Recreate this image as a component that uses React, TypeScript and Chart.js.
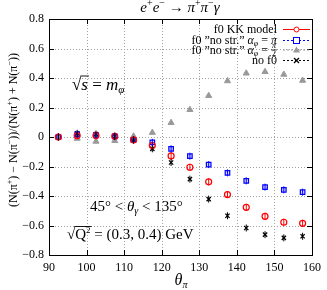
import React, { useEffect, useRef } from "react";
import { Chart, registerables } from "chart.js";
Chart.register(...registerables);

const theta = [92.5, 97.5, 102.5, 107.5, 112.5, 117.5, 122.5, 127.5, 132.5, 137.5, 142.5, 147.5, 152.5, 157.5];
const kkModel = [0, 0.01, 0.01, 0.005, -0.02, -0.058, -0.128, -0.205, -0.304, -0.39, -0.477, -0.538, -0.578, -0.585];
const noStrPi = [0, 0.018, 0.013, 0.005, -0.02, -0.036, -0.08, -0.13, -0.187, -0.243, -0.297, -0.34, -0.358, -0.374];
const noStrHalfPi = [0, -0.01, -0.03, -0.025, 0.005, 0.03, 0.097, 0.185, 0.28, 0.38, 0.432, 0.442, 0.424, 0.383];
const noF0 = [0, 0.025, 0.02, 0.005, -0.02, -0.08, -0.173, -0.286, -0.421, -0.534, -0.617, -0.662, -0.684, -0.673];

const xTicks = [90, 100, 110, 120, 130, 140, 150, 160];
const yTicks = [-0.8, -0.6, -0.4, -0.2, 0, 0.2, 0.4, 0.6, 0.8];

const SERIF = '"Liberation Serif", "DejaVu Serif", serif';

type Seg = { t?: string; it?: boolean; size?: number; dy?: number; over?: number; frac?: [string, string] };

function fontOf(s: Seg, base: number) {
  return `${s.it ? "italic " : ""}${s.size ?? base}px ${SERIF}`;
}
function segWidth(ctx: CanvasRenderingContext2D, s: Seg, base: number) {
  if (s.frac) {
    ctx.font = `${Math.round(base * 0.7)}px ${SERIF}`;
    return Math.max(ctx.measureText(s.frac[0]).width, ctx.measureText(s.frac[1]).width) + 2;
  }
  ctx.font = fontOf(s, base);
  return ctx.measureText(s.t || "").width;
}
function drawRich(ctx: CanvasRenderingContext2D, segs: Seg[], x: number, y: number, base: number, align: "left" | "right" | "center", color = "#000") {
  const widths = segs.map((s) => segWidth(ctx, s, base));
  const total = widths.reduce((a, b) => a + b, 0);
  let cx = align === "left" ? x : align === "right" ? x - total : x - total / 2;
  ctx.save();
  ctx.fillStyle = color;
  ctx.strokeStyle = color;
  ctx.textBaseline = "alphabetic";
  ctx.textAlign = "left";
  segs.forEach((s, i) => {
    const w = widths[i];
    if (s.frac) {
      const fs = Math.round(base * 0.7);
      ctx.font = `${fs}px ${SERIF}`;
      const mid = y - base * 0.3;
      const w0 = ctx.measureText(s.frac[0]).width;
      const w1 = ctx.measureText(s.frac[1]).width;
      ctx.font = `italic ${fs}px ${SERIF}`;
      ctx.fillText(s.frac[0], cx + (w - w0) / 2, mid - 1.5);
      ctx.font = `${fs}px ${SERIF}`;
      ctx.fillText(s.frac[1], cx + (w - w1) / 2, mid + fs * 0.75);
      ctx.lineWidth = 0.7;
      ctx.beginPath();
      ctx.moveTo(cx, mid);
      ctx.lineTo(cx + w, mid);
      ctx.stroke();
    } else {
      ctx.font = fontOf(s, base);
      ctx.fillText(s.t || "", cx, y + (s.dy || 0));
      if (s.over) {
        ctx.lineWidth = 0.9;
        ctx.beginPath();
        ctx.moveTo(cx - 1, y - s.over);
        ctx.lineTo(cx + w + 1, y - s.over);
        ctx.stroke();
      }
    }
    cx += w;
  });
  ctx.restore();
}

const decorPlugin = {
  id: "decor",
  beforeDatasetsDraw(chart: any) {
    const ctx = chart.ctx as CanvasRenderingContext2D;
    const { left, right, top, bottom } = chart.chartArea;
    const xs = chart.scales.x;
    const ys = chart.scales.y;
    ctx.save();
    ctx.strokeStyle = "#a0a0a0";
    ctx.lineWidth = 1;
    ctx.setLineDash([1, 2]);
    xTicks.forEach((v) => {
      const px = Math.round(xs.getPixelForValue(v)) + 0.5;
      ctx.beginPath();
      ctx.moveTo(px, top);
      ctx.lineTo(px, bottom);
      ctx.stroke();
    });
    yTicks.forEach((v) => {
      const py = Math.round(ys.getPixelForValue(v)) + 0.5;
      ctx.beginPath();
      ctx.moveTo(left, py);
      ctx.lineTo(right, py);
      ctx.stroke();
    });
    ctx.setLineDash([]);
    ctx.strokeStyle = "#000";
    ctx.lineWidth = 1;
    const L = 5;
    xTicks.forEach((v) => {
      const px = Math.round(xs.getPixelForValue(v)) + 0.5;
      ctx.beginPath();
      ctx.moveTo(px, bottom);
      ctx.lineTo(px, bottom - L);
      ctx.moveTo(px, top);
      ctx.lineTo(px, top + L);
      ctx.stroke();
    });
    yTicks.forEach((v) => {
      const py = Math.round(ys.getPixelForValue(v)) + 0.5;
      ctx.beginPath();
      ctx.moveTo(left, py);
      ctx.lineTo(left + L, py);
      ctx.moveTo(right, py);
      ctx.lineTo(right - L, py);
      ctx.stroke();
    });
    ctx.strokeRect(Math.round(left) + 0.5, Math.round(top) + 0.5, Math.round(right - left), Math.round(bottom - top));
    ctx.restore();
  },
  afterDatasetsDraw(chart: any) {
    const ctx = chart.ctx as CanvasRenderingContext2D;
    // vertical error-bar strokes through markers
    ctx.save();
    [0, 1, 3].forEach((di) => {
      const meta = chart.getDatasetMeta(di);
      const col = chart.data.datasets[di].borderColor;
      ctx.strokeStyle = col;
      ctx.lineWidth = 1;
      meta.data.forEach((el: any) => {
        ctx.beginPath();
        ctx.moveTo(el.x, el.y - 3.5);
        ctx.lineTo(el.x, el.y + 3.5);
        ctx.stroke();
      });
    });
    ctx.restore();

    // title
    drawRich(ctx, [
      { t: "e", it: true }, { t: "+", size: 10, dy: -6 }, { t: "e", it: true }, { t: "−", size: 10, dy: -6 },
      { t: " → " }, { t: "π", it: true }, { t: "+", size: 10, dy: -6 }, { t: "π", it: true }, { t: "−", size: 10, dy: -6 }, { t: "γ", it: true },
    ], 180, 12, 15, "center");

    // y-axis title
    ctx.save();
    ctx.translate(13, 130);
    ctx.rotate(-Math.PI / 2);
    drawRich(ctx, [
      { t: "(N(π" }, { t: "+", size: 8, dy: -5 }, { t: ") − N(π" }, { t: "−", size: 8, dy: -5 },
      { t: "))/(N(π" }, { t: "+", size: 8, dy: -5 }, { t: ") + N(π" }, { t: "−", size: 8, dy: -5 }, { t: "))" },
    ], 0, 4, 12, "center");
    ctx.restore();

    // x-axis title
    drawRich(ctx, [{ t: "θ", it: true }, { t: "π", it: true, size: 10, dy: 3 }], 181, 285, 16, "center");

    // legend
    const tx = 277;
    const rows: { segs: Seg[]; y: number; color: string; dash: number[]; style: string }[] = [
      { segs: [{ t: "f0 KK model" }], y: 33, color: "#ff0000", dash: [], style: "circle" },
      { segs: [{ t: "f0 \u201Dno str.\u201D " }, { t: "α", it: true }, { t: "φ", it: true, size: 8, dy: 2 }, { t: " = " }, { t: "π", it: true }], y: 44, color: "#0000ff", dash: [2, 2], style: "rect" },
      { segs: [{ t: "f0 \u201Dno str.\u201D " }, { t: "α", it: true }, { t: "φ", it: true, size: 8, dy: 2 }, { t: " = " }, { frac: ["π", "2"] }], y: 53.5, color: "#999999", dash: [2, 2], style: "triangle" },
      { segs: [{ t: "no f0" }], y: 64, color: "#000000", dash: [2, 2], style: "cross" },
    ];
    rows.forEach((r) => {
      drawRich(ctx, r.segs, tx, r.y, 12, "right");
      const ly = r.y - 3.5;
      ctx.save();
      ctx.strokeStyle = r.color;
      ctx.fillStyle = r.color;
      ctx.lineWidth = 1;
      ctx.setLineDash(r.dash);
      ctx.beginPath();
      ctx.moveTo(283, ly);
      ctx.lineTo(310, ly);
      ctx.stroke();
      ctx.setLineDash([]);
      const mx = 296.5;
      if (r.style === "circle") {
        ctx.fillStyle = "#fff";
        ctx.beginPath();
        ctx.arc(mx, ly, 2.5, 0, Math.PI * 2);
        ctx.fill();
        ctx.stroke();
      } else if (r.style === "rect") {
        ctx.fillStyle = "#fff";
        ctx.fillRect(mx - 3, ly - 3, 6, 6);
        ctx.strokeRect(mx - 3, ly - 3, 6, 6);
      } else if (r.style === "triangle") {
        ctx.beginPath();
        ctx.moveTo(mx, ly - 3.5);
        ctx.lineTo(mx + 3.5, ly + 2.5);
        ctx.lineTo(mx - 3.5, ly + 2.5);
        ctx.closePath();
        ctx.fill();
      } else {
        ctx.lineWidth = 1.3;
        ctx.beginPath();
        ctx.moveTo(mx - 2.5, ly - 2.5);
        ctx.lineTo(mx + 2.5, ly + 2.5);
        ctx.moveTo(mx + 2.5, ly - 2.5);
        ctx.lineTo(mx - 2.5, ly + 2.5);
        ctx.stroke();
      }
      ctx.restore();
    });

    // annotations
    drawRich(ctx, [{ t: "√", size: 17 }, { t: "s", it: true, over: 14, size: 17 }, { t: " = " , size: 17}, { t: "m", it: true, size: 17 }, { t: "φ", it: true, size: 11, dy: 3 }], 72, 90, 17, "left");
    drawRich(ctx, [{ t: "45° < " }, { t: "θ", it: true }, { t: "γ", it: true, size: 10, dy: 3 }, { t: " < 135°" }], 90, 211, 15, "left");
    drawRich(ctx, [{ t: "√", size: 15 }, { t: "Q", over: 12.5 }, { t: "2", size: 9, dy: -6, over: 12.5 }, { t: " = (0.3, 0.4) GeV" }], 67, 239, 15, "left");
  },
};

function fmtY(v: number) {
  const r = Math.round(v * 10) / 10;
  if (r === 0) return "0";
  const s = Math.abs(r).toFixed(1);
  return r < 0 ? "−" + s : s;
}

export default function App() {
  const ref = useRef<HTMLCanvasElement | null>(null);
  useEffect(() => {
    document.body.style.margin = "0";
    const canvas = ref.current!;
    const mk = (a: number[]) => theta.map((x, i) => ({ x, y: a[i] }));
    const chart = new Chart(canvas, {
      type: "scatter",
      data: {
        datasets: [
          { label: "f0 KK model", data: mk(kkModel), borderColor: "#ff0000", backgroundColor: "rgba(255,255,255,0)", pointStyle: "circle", pointRadius: 3, borderWidth: 1.2 },
          { label: "no str. pi", data: mk(noStrPi), borderColor: "#0000ff", backgroundColor: "rgba(0,0,255,0.15)", pointStyle: "rect", pointRadius: 3.2, borderWidth: 1.2 },
          { label: "no str. pi/2", data: mk(noStrHalfPi), borderColor: "#999999", backgroundColor: "#999999", pointStyle: "triangle", pointRadius: 3.5, borderWidth: 1 },
          { label: "no f0", data: mk(noF0), borderColor: "#000000", backgroundColor: "#000000", pointStyle: "crossRot", pointRadius: 3, borderWidth: 1.3 },
        ],
      } as any,
      options: {
        animation: false,
        responsive: false,
        devicePixelRatio: 1,
        layout: { padding: { left: 0, right: 10, top: 19, bottom: 0 } },
        plugins: { legend: { display: false }, tooltip: { enabled: false }, title: { display: false } },
        scales: {
          x: {
            type: "linear",
            min: 90,
            max: 160,
            afterBuildTicks: (s: any) => { s.ticks = xTicks.map((v) => ({ value: v })); },
            afterFit: (s: any) => { s.height = 35; },
            grid: { display: false, drawTicks: false },
            border: { display: false },
            ticks: { color: "#000", font: { family: SERIF, size: 12 }, padding: 6, maxRotation: 0 },
          },
          y: {
            type: "linear",
            min: -0.8,
            max: 0.8,
            afterBuildTicks: (s: any) => { s.ticks = yTicks.map((v) => ({ value: v })); },
            afterFit: (s: any) => { s.width = 49; },
            grid: { display: false, drawTicks: false },
            border: { display: false },
            ticks: { color: "#000", font: { family: SERIF, size: 12 }, padding: 5, callback: (v: any) => fmtY(Number(v)) },
          },
        },
      } as any,
      plugins: [decorPlugin],
    });
    return () => chart.destroy();
  }, []);
  return (
    <div style={{ width: 327, height: 290 }}>
      <canvas ref={ref} width={327} height={290} style={{ display: "block" }} />
    </div>
  );
}
